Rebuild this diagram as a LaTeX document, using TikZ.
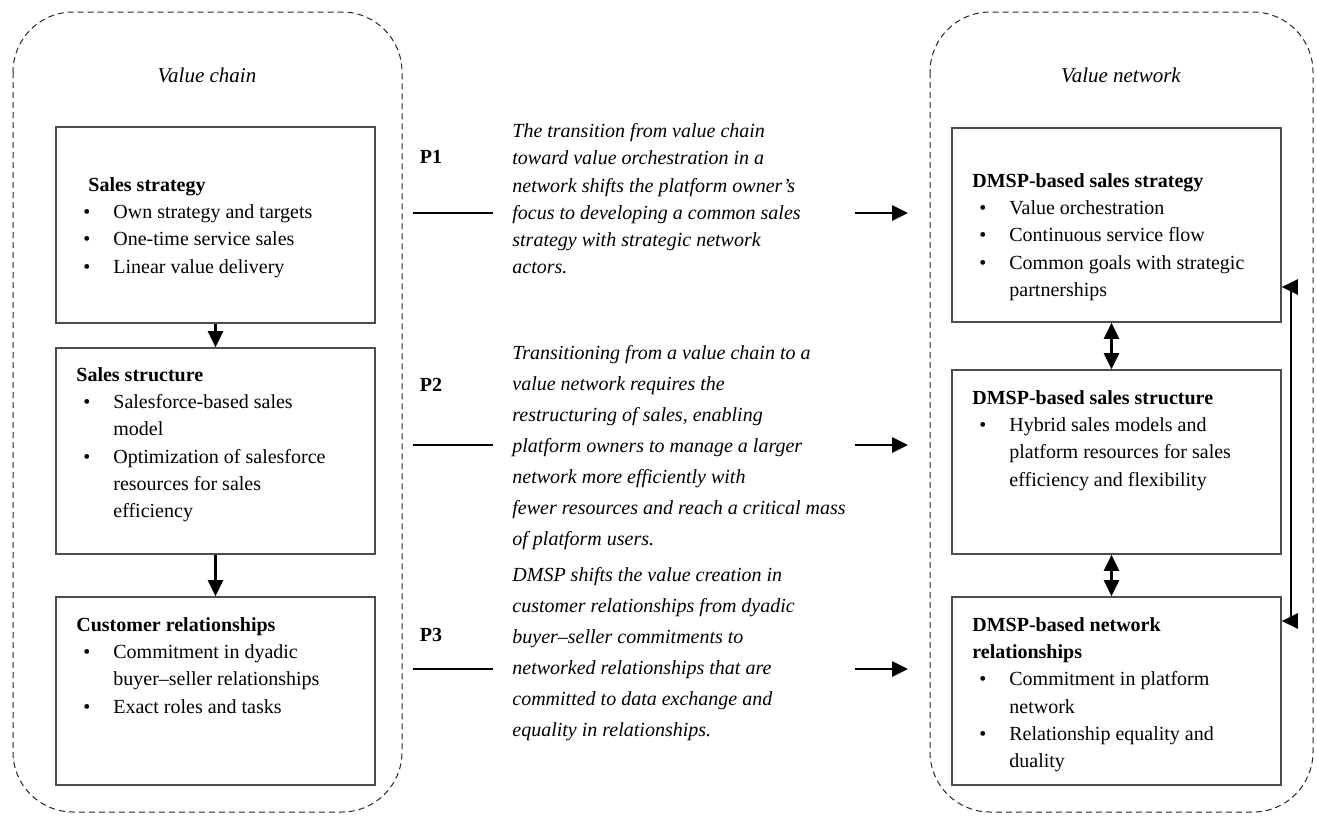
\documentclass[tikz,border=0pt]{standalone}
\usepackage{fontspec}
\setmainfont{Liberation Serif}
\usetikzlibrary{arrows.meta,calc}

% bullet lines inside the boxes
\newcommand{\bitem}{\hspace*{3.5pt}\makebox[15pt][l]{\textbullet}}
\newcommand{\bcont}{\hspace*{18.5pt}}

\tikzset{
  frame/.style={draw=black!85, dash pattern=on 3pt off 2pt, line width=0.5pt, rounded corners=30pt},
  box/.style={draw=black!70, line width=0.8pt, inner sep=0pt},
  txt/.style={anchor=north west, inner sep=0pt, align=left, font=\fontsize{10}{13.65}\selectfont},
  ptxt/.style={anchor=north west, inner sep=0pt, align=left, font=\fontsize{10}{15.5}\selectfont\itshape},
  plabel/.style={inner sep=0pt, font=\fontsize{10}{12}\selectfont\bfseries},
  head/.style={inner sep=0pt, font=\fontsize{10.5}{12}\selectfont\itshape},
  arr/.style={line width=1.3pt, -{Triangle[length=8pt,width=7.5pt]}},
  darr/.style={line width=1.3pt, {Triangle[length=8pt,width=7.5pt]}-{Triangle[length=8pt,width=7.5pt]}},
  pline/.style={line width=1.4pt},
}

\begin{document}
\begin{tikzpicture}[x=0.5pt,y=-0.5pt]
	\useasboundingbox (0,0) rectangle (1317,825);

	% the two dashed frames
	\draw[frame] (13,12) rectangle (402,812);
	\draw[frame] (930,12) rectangle (1313,812);
	\node[head] (vchain) at (207,75) {Value chain};
	\node[head] (vnet) at (1121,75) {Value network};

	% value chain boxes
	\node[box, minimum width=159.5pt, minimum height=98pt] (L1) at (215.5,225) {};
	\node[box, minimum width=159.5pt, minimum height=103pt] (L2) at (215.5,451) {};
	\node[box, minimum width=159.5pt, minimum height=94pt] (L3) at (215.5,691) {};

	\node[txt] (L1t) at (76,177) {\hspace*{6pt}\textbf{Sales strategy}\\
		\bitem Own strategy and targets\\
		\bitem One-time service sales\\
		\bitem Linear value delivery};
	\node[txt] (L2t) at (76,367) {\textbf{Sales structure}\\
		\bitem Salesforce-based sales\\
		\bcont model\\
		\bitem Optimization of salesforce\\
		\bcont resources for sales\\
		\bcont efficiency};
	\node[txt] (L3t) at (76,617) {\textbf{Customer relationships}\\
		\bitem Commitment in dyadic\\
		\bcont buyer–seller relationships\\
		\bitem Exact roles and tasks};

	\draw[arr] (L1) -- (L2);
	\draw[arr] (L2) -- (L3);

	% value network boxes
	\node[box, minimum width=164.5pt, minimum height=97pt] (R1) at (1116.5,225) {};
	\node[box, minimum width=164.5pt, minimum height=92pt] (R2) at (1116.5,462) {};
	\node[box, minimum width=164.5pt, minimum height=94pt] (R3) at (1116.5,691) {};

	\node[txt] (R1t) at (972,173) {\textbf{DMSP-based sales strategy}\\
		\bitem Value orchestration\\
		\bitem Continuous service flow\\
		\bitem Common goals with strategic\\
		\bcont partnerships};
	\node[txt] (R2t) at (972,390) {\textbf{DMSP-based sales structure}\\
		\bitem Hybrid sales models and\\
		\bcont platform resources for sales\\
		\bcont efficiency and flexibility};
	\node[txt] (R3t) at (972,617) {\textbf{DMSP-based network}\\
		\textbf{relationships}\\
		\bitem Commitment in platform\\
		\bcont network\\
		\bitem Relationship equality and\\
		\bcont duality};

	\draw[darr] ([xshift=-2.5pt]R1.south) -- ([xshift=-2.5pt]R2.north);
	\draw[darr] ([xshift=-2.5pt]R2.south) -- ([xshift=-2.5pt]R3.north);
	\coordinate (s1) at (1291,287);
	\coordinate (s2) at (1291,621);
	\draw[darr] (s1 -| R1.east) -- (s1) -- (s2) -- (s2 -| R3.east);

	% propositions
	\node[plabel] (P1) at (431,157) {P1};
	\node[plabel] (P2) at (431,385) {P2};
	\node[plabel] (P3) at (431,635) {P3};

	\node[txt, font=\fontsize{10}{13.65}\selectfont\itshape] (P1t) at (512,123) {The transition from value chain\\
		toward value orchestration in a\\
		network shifts the platform owner’s\\
		focus to developing a common sales\\
		strategy with strategic network\\
		actors.};
	\node[ptxt] (P2t) at (512,345) {Transitioning from a value chain to a\\
		value network requires the\\
		restructuring of sales, enabling\\
		platform owners to manage a larger\\
		network more efficiently with\\
		fewer resources and reach a critical mass\\
		of platform users.};
	\node[ptxt] (P3t) at (512,567) {DMSP shifts the value creation in\\
		customer relationships from dyadic\\
		buyer–seller commitments to\\
		networked relationships that are\\
		committed to data exchange and\\
		equality in relationships.};

	\foreach \n/\y in {1/213, 2/445, 3/669} {
		\coordinate (p\n a) at (413,\y);
		\coordinate (p\n b) at (493,\y);
		\coordinate (q\n a) at (855,\y);
		\coordinate (q\n b) at (908,\y);
		\draw[pline] (p\n a) -- (p\n b);
		\draw[arr] (q\n a) -- (q\n b);
	}
\end{tikzpicture}
\end{document}
